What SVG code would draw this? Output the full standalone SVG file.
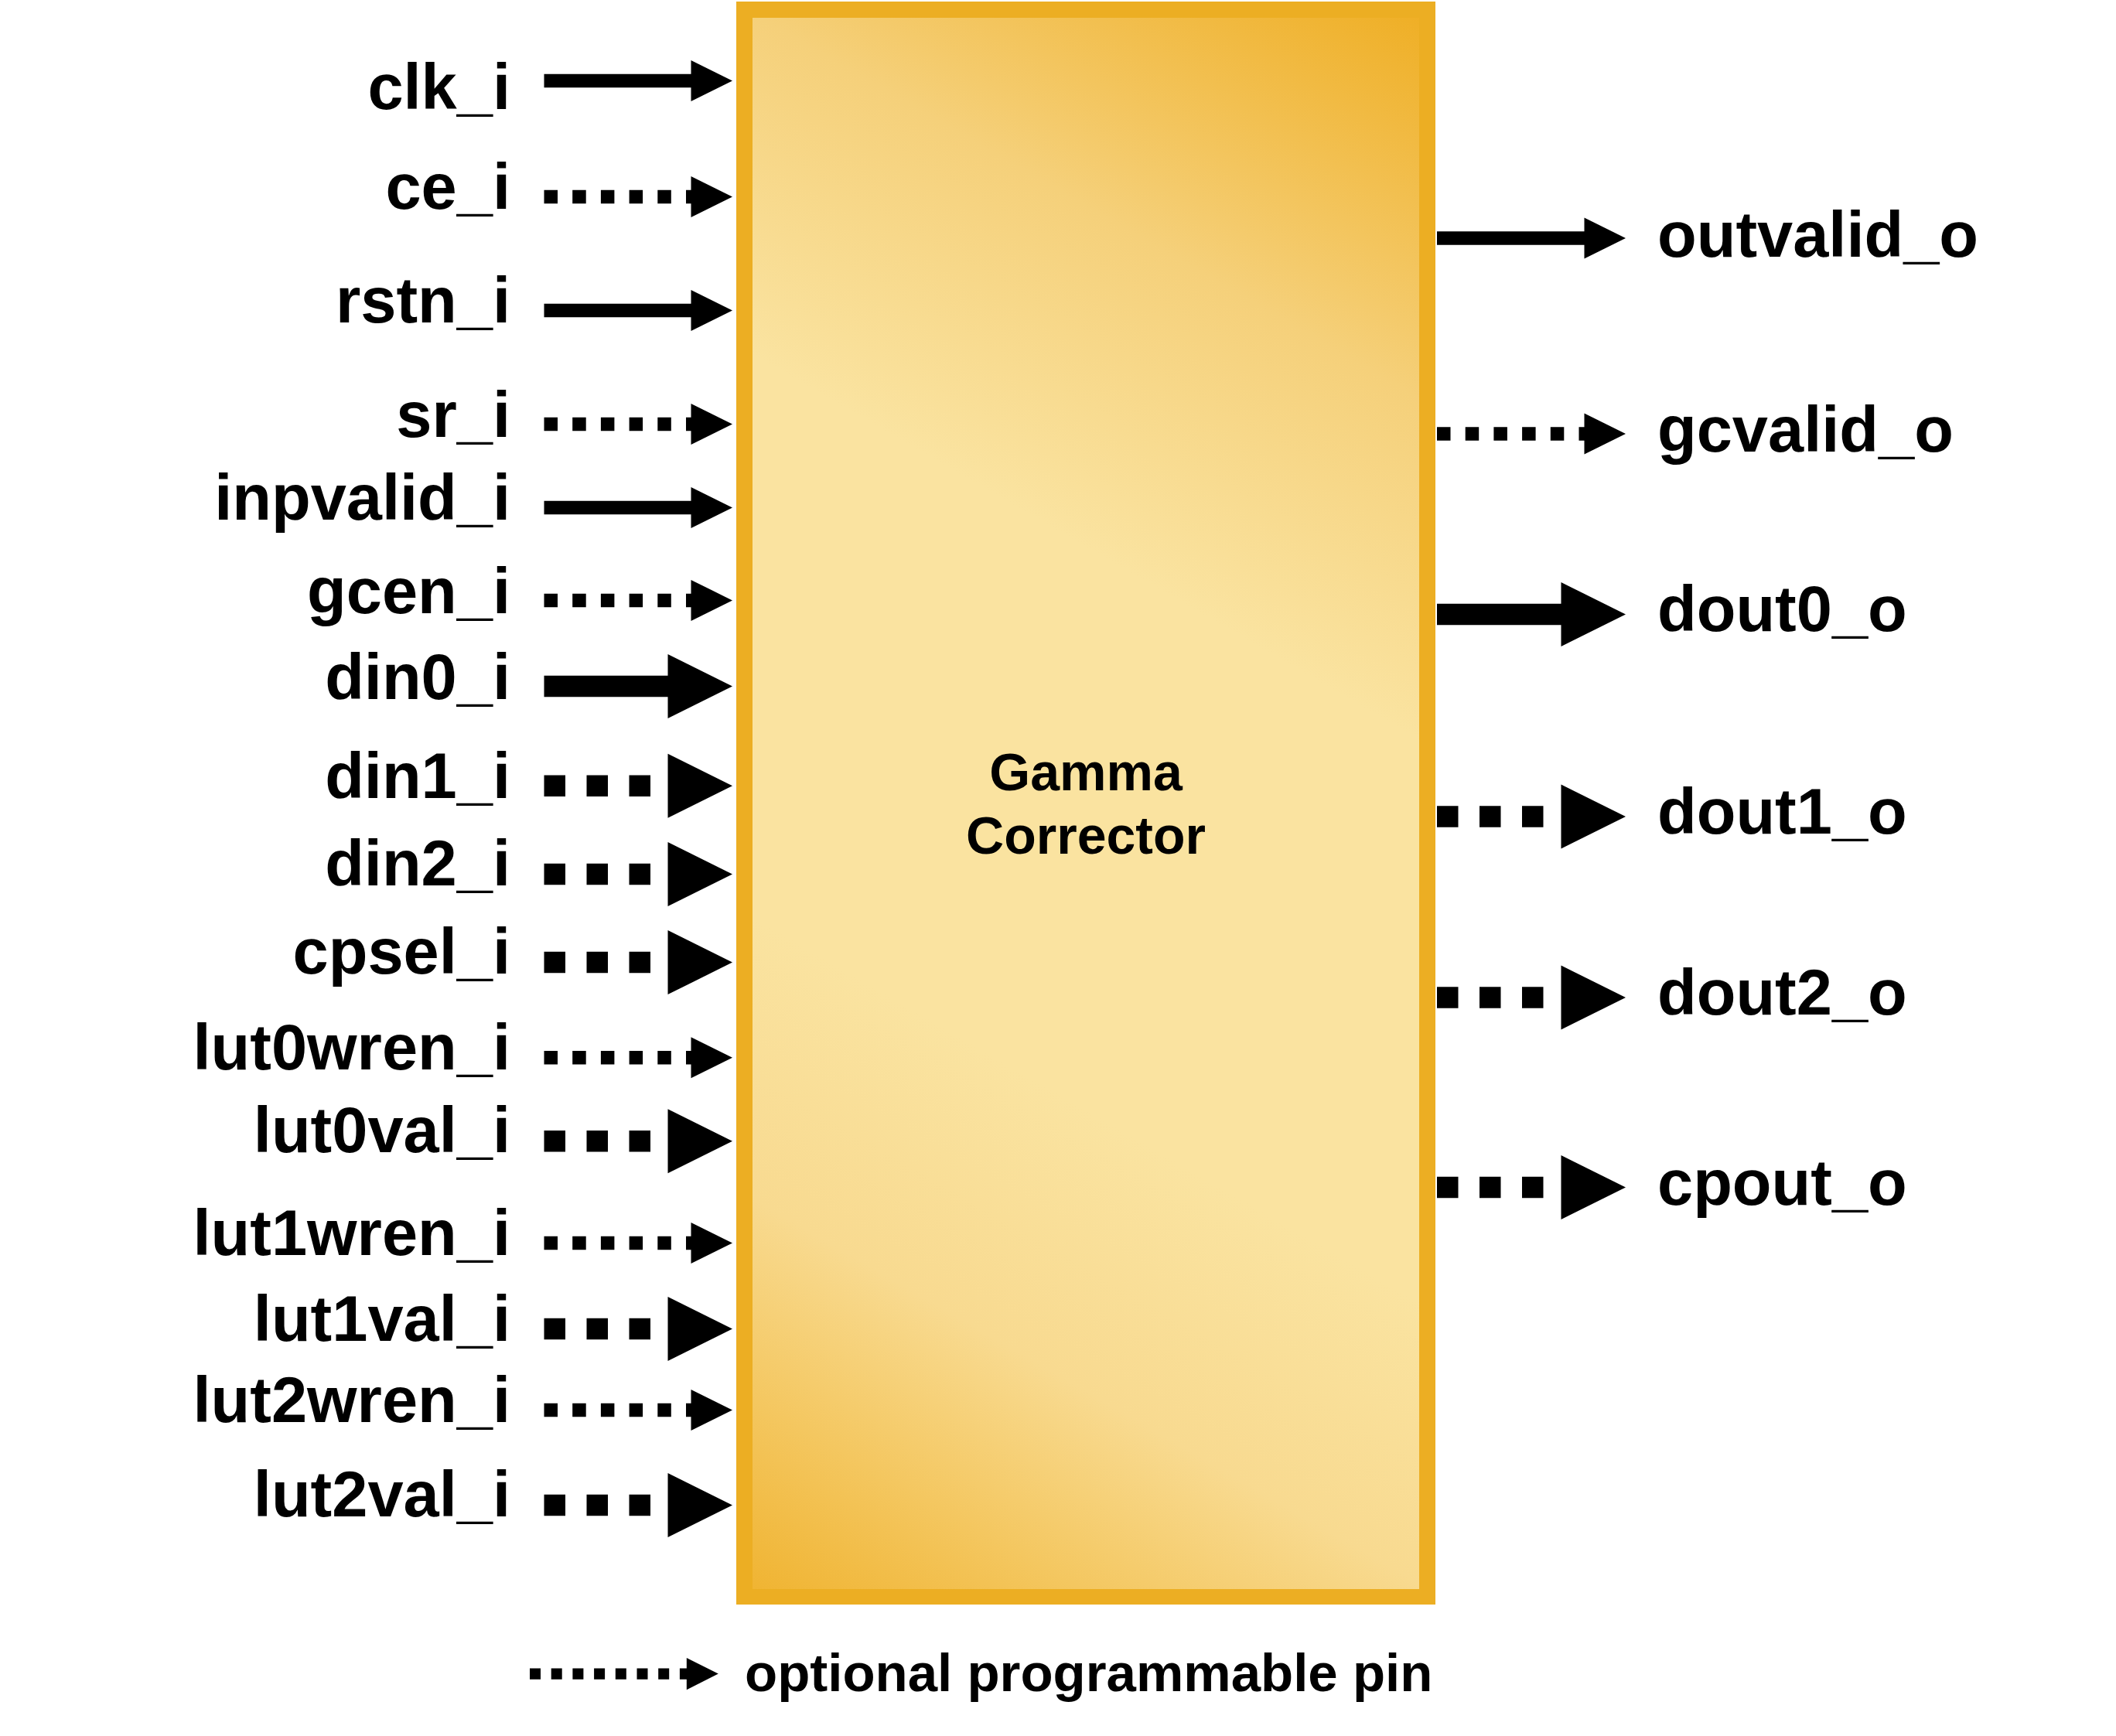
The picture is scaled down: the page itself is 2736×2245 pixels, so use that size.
<svg xmlns="http://www.w3.org/2000/svg" width="2736" height="2245" viewBox="0 0 2736 2245">
<style>
.lbl{font-family:"Liberation Sans",Arial,Helvetica,sans-serif;font-weight:bold;font-size:83px;fill:#000}
.in{text-anchor:end}
.title{font-family:"Liberation Sans",Arial,Helvetica,sans-serif;font-weight:bold;font-size:68px;fill:#000;text-anchor:middle}
.legend{font-family:"Liberation Sans",Arial,Helvetica,sans-serif;font-weight:bold;font-size:69px;fill:#000}
.w{fill:none;stroke:#000}
.thin{stroke-width:17.5;marker-end:url(#hThin)}
.thick{stroke-width:27.5;marker-end:url(#hThick)}
.dot{stroke-dasharray:17.5 19.2}
.dot3{stroke-dasharray:27.5 27.5}
.leg{stroke-width:14.3;stroke-dasharray:14 13.7;marker-end:url(#hLeg)}
</style>
<defs>
<linearGradient id="boxFill" gradientUnits="userSpaceOnUse" x1="1979" y1="104" x2="854" y2="2053">
<stop offset="0" stop-color="#EFAF26"/>
<stop offset="0.19" stop-color="#F5D07A"/>
<stop offset="0.36" stop-color="#FAE3A0"/>
<stop offset="0.64" stop-color="#FAE3A0"/>
<stop offset="0.78" stop-color="#F8DA90"/>
<stop offset="0.88" stop-color="#F4C760"/>
<stop offset="1" stop-color="#EFAF26"/>
</linearGradient>
<marker id="hThin" markerUnits="userSpaceOnUse" markerWidth="60" markerHeight="60" refX="0.5" refY="26.5" orient="auto" overflow="visible">
<path d="M0,0 L53.5,26.5 L0,53 Z" fill="#000"/>
</marker>
<marker id="hThick" markerUnits="userSpaceOnUse" markerWidth="90" markerHeight="90" refX="0.5" refY="41.5" orient="auto" overflow="visible">
<path d="M0,0 L83.5,41.5 L0,83 Z" fill="#000"/>
</marker>
<marker id="hLeg" markerUnits="userSpaceOnUse" markerWidth="50" markerHeight="50" refX="0.5" refY="20.7" orient="auto" overflow="visible">
<path d="M0,0 L41,20.7 L0,41.4 Z" fill="#000"/>
</marker>
</defs>
<rect width="2736" height="2245" fill="#FFFFFF"/>
<g id="gamma_corrector">
<rect x="952" y="2" width="904" height="2073" fill="#ECAE23"/>
<rect x="973" y="23" width="862" height="2032" fill="url(#boxFill)"/>
<text class="title" x="1404" y="1022">Gamma</text>
<text class="title" x="1404" y="1104">Corrector</text>
</g>
<g id="connectors">
<line class="w thin" x1="703.5" y1="104.5" x2="894" y2="104.5"/>
<line class="w thin dot" x1="703.5" y1="254.5" x2="894" y2="254.5"/>
<line class="w thin" x1="703.5" y1="401.5" x2="894" y2="401.5"/>
<line class="w thin dot" x1="703.5" y1="548.4" x2="894" y2="548.4"/>
<line class="w thin" x1="703.5" y1="656.6" x2="894" y2="656.6"/>
<line class="w thin dot" x1="703.5" y1="776.4" x2="894" y2="776.4"/>
<line class="w thick" x1="703.5" y1="887.5" x2="864" y2="887.5"/>
<line class="w thick dot3" x1="703.5" y1="1016.3" x2="864" y2="1016.3"/>
<line class="w thick dot3" x1="703.5" y1="1130.4" x2="864" y2="1130.4"/>
<line class="w thick dot3" x1="703.5" y1="1244.6" x2="864" y2="1244.6"/>
<line class="w thin dot" x1="703.5" y1="1367.7" x2="894" y2="1367.7"/>
<line class="w thick dot3" x1="703.5" y1="1475.8" x2="864" y2="1475.8"/>
<line class="w thin dot" x1="703.5" y1="1607.4" x2="894" y2="1607.4"/>
<line class="w thick dot3" x1="703.5" y1="1718.6" x2="864" y2="1718.6"/>
<line class="w thin dot" x1="703.5" y1="1823.5" x2="894" y2="1823.5"/>
<line class="w thick dot3" x1="703.5" y1="1946.5" x2="864" y2="1946.5"/>
<line class="w thin" x1="1858" y1="308" x2="2049" y2="308"/>
<line class="w thin dot" x1="1858" y1="561" x2="2049" y2="561"/>
<line class="w thick" x1="1858" y1="794.5" x2="2019" y2="794.5"/>
<line class="w thick dot3" x1="1858" y1="1056" x2="2019" y2="1056"/>
<line class="w thick dot3" x1="1858" y1="1290" x2="2019" y2="1290"/>
<line class="w thick dot3" x1="1858" y1="1535.5" x2="2019" y2="1535.5"/>
</g>
<g id="input-pins">
<text id="clk_i" class="lbl in" x="660" y="141">clk_i</text>
<text id="ce_i" class="lbl in" x="660" y="270">ce_i</text>
<text id="rstn_i" class="lbl in" x="660" y="417">rstn_i</text>
<text id="sr_i" class="lbl in" x="660" y="564.5">sr_i</text>
<text id="inpvalid_i" class="lbl in" x="660" y="671.6">inpvalid_i</text>
<text id="gcen_i" class="lbl in" x="660" y="792.5">gcen_i</text>
<text id="din0_i" class="lbl in" x="660" y="903.5">din0_i</text>
<text id="din1_i" class="lbl in" x="660" y="1031.7">din1_i</text>
<text id="din2_i" class="lbl in" x="660" y="1145">din2_i</text>
<text id="cpsel_i" class="lbl in" x="660" y="1259.3">cpsel_i</text>
<text id="lut0wren_i" class="lbl in" x="660" y="1382.5">lut0wren_i</text>
<text id="lut0val_i" class="lbl in" x="660" y="1489.7">lut0val_i</text>
<text id="lut1wren_i" class="lbl in" x="660" y="1622.5">lut1wren_i</text>
<text id="lut1val_i" class="lbl in" x="660" y="1733.5">lut1val_i</text>
<text id="lut2wren_i" class="lbl in" x="660" y="1838.8">lut2wren_i</text>
<text id="lut2val_i" class="lbl in" x="660" y="1961">lut2val_i</text>
</g>
<g id="output-pins">
<text id="outvalid_o" class="lbl" x="2143" y="332">outvalid_o</text>
<text id="gcvalid_o" class="lbl" x="2143" y="584">gcvalid_o</text>
<text id="dout0_o" class="lbl" x="2143" y="816">dout0_o</text>
<text id="dout1_o" class="lbl" x="2143" y="1078">dout1_o</text>
<text id="dout2_o" class="lbl" x="2143" y="1312">dout2_o</text>
<text id="cpout_o" class="lbl" x="2143" y="1558">cpout_o</text>
</g>
<g id="legend">
<line class="w leg" x1="685" y1="2164.6" x2="888.3" y2="2164.6"/>
<text class="legend" x="963" y="2186.7">optional programmable pin</text>
</g>
</svg>
